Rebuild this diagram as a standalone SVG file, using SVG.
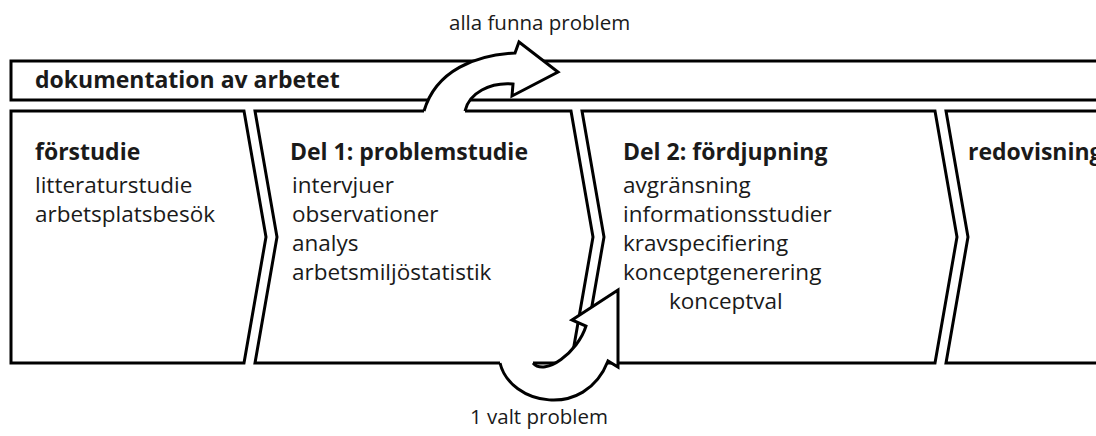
<svg xmlns="http://www.w3.org/2000/svg" width="1096" height="436" viewBox="0 0 1096 436">
<style>
.box{fill:#fff;stroke:#000;stroke-width:3;stroke-linejoin:miter}
.afill{fill:#fff;stroke:none}
.aline{fill:none;stroke:#000;stroke-width:3;stroke-linejoin:miter}
.t{font-family:"Open Sans","Liberation Sans",sans-serif;font-size:22.5px;fill:#1a1a1a}
.b{font-family:"Open Sans","Liberation Sans",sans-serif;font-size:23px;font-weight:700;fill:#1a1a1a}
.l{font-family:"Open Sans","Liberation Sans",sans-serif;font-size:20.5px;fill:#1a1a1a}
</style>
<rect width="1096" height="436" fill="#fff"/>
<g id="dokumentation">
<rect class="box" x="11" y="61" width="1100" height="39"/>
<text class="b" x="35" y="88">dokumentation av arbetet</text>
</g>
<g id="forstudie">
<path class="box" d="M11,111 L244,111 L266,237 L244,363 L11,363 Z"/>
<text class="b" x="35" y="160">förstudie</text>
<text class="t" x="35" y="193">litteraturstudie</text>
<text class="t" x="35" y="222">arbetsplatsbesök</text>
</g>
<g id="del1">
<path class="box" d="M255,111 L571,111 L593,237 L571,363 L255,363 L277,237 Z"/>
<text class="b" x="290" y="160">Del 1: problemstudie</text>
<text class="t" x="292" y="193">intervjuer</text>
<text class="t" x="292" y="222">observationer</text>
<text class="t" x="292" y="251">analys</text>
<text class="t" x="292" y="280">arbetsmiljöstatistik</text>
</g>
<g id="del2">
<path class="box" d="M582,111 L935,111 L957,237 L935,363 L582,363 L604,237 Z"/>
<text class="b" x="623" y="160">Del 2: fördjupning</text>
<text class="t" x="623" y="193">avgränsning</text>
<text class="t" x="623" y="222">informationsstudier</text>
<text class="t" x="623" y="251">kravspecifiering</text>
<text class="t" x="623" y="280">konceptgenerering</text>
<text class="t" x="669" y="309">konceptval</text>
</g>
<g id="redovisning">
<path class="box" d="M946,111 L1110,111 L1110,363 L946,363 L968,237 Z"/>
<text class="b" x="968" y="160">redovisning</text>
</g>
<g id="connectors">
<g id="arrow-alla">
<path class="afill" d="M424,113 L424,111 C436,70 476,55 515,53 L519,42 L558,72 L512,96 L513,84 C490,82 469,93 465,111 L465,113 Z"/>
<path class="aline" d="M424,111 C436,70 476,55 515,53 L519,42 L558,72 L512,96 L513,84 C490,82 469,93 465,111"/>
</g>
<g id="arrow-valt">
<path class="afill" d="M500,361 L500,363 C510,405 585,420 608,361 L618,367 L618,290 L572,320 L586,326 C578,352 545,377 533,363 L533,361 Z"/>
<path class="aline" d="M500,363 C510,405 585,420 608,361 L618,367 L618,290 L572,320 L586,326 C578,352 545,377 533,363"/>
</g>
<text class="l" x="449" y="30">alla funna problem</text>
<text class="l" x="470" y="424">1 valt problem</text>
</g>
</svg>
